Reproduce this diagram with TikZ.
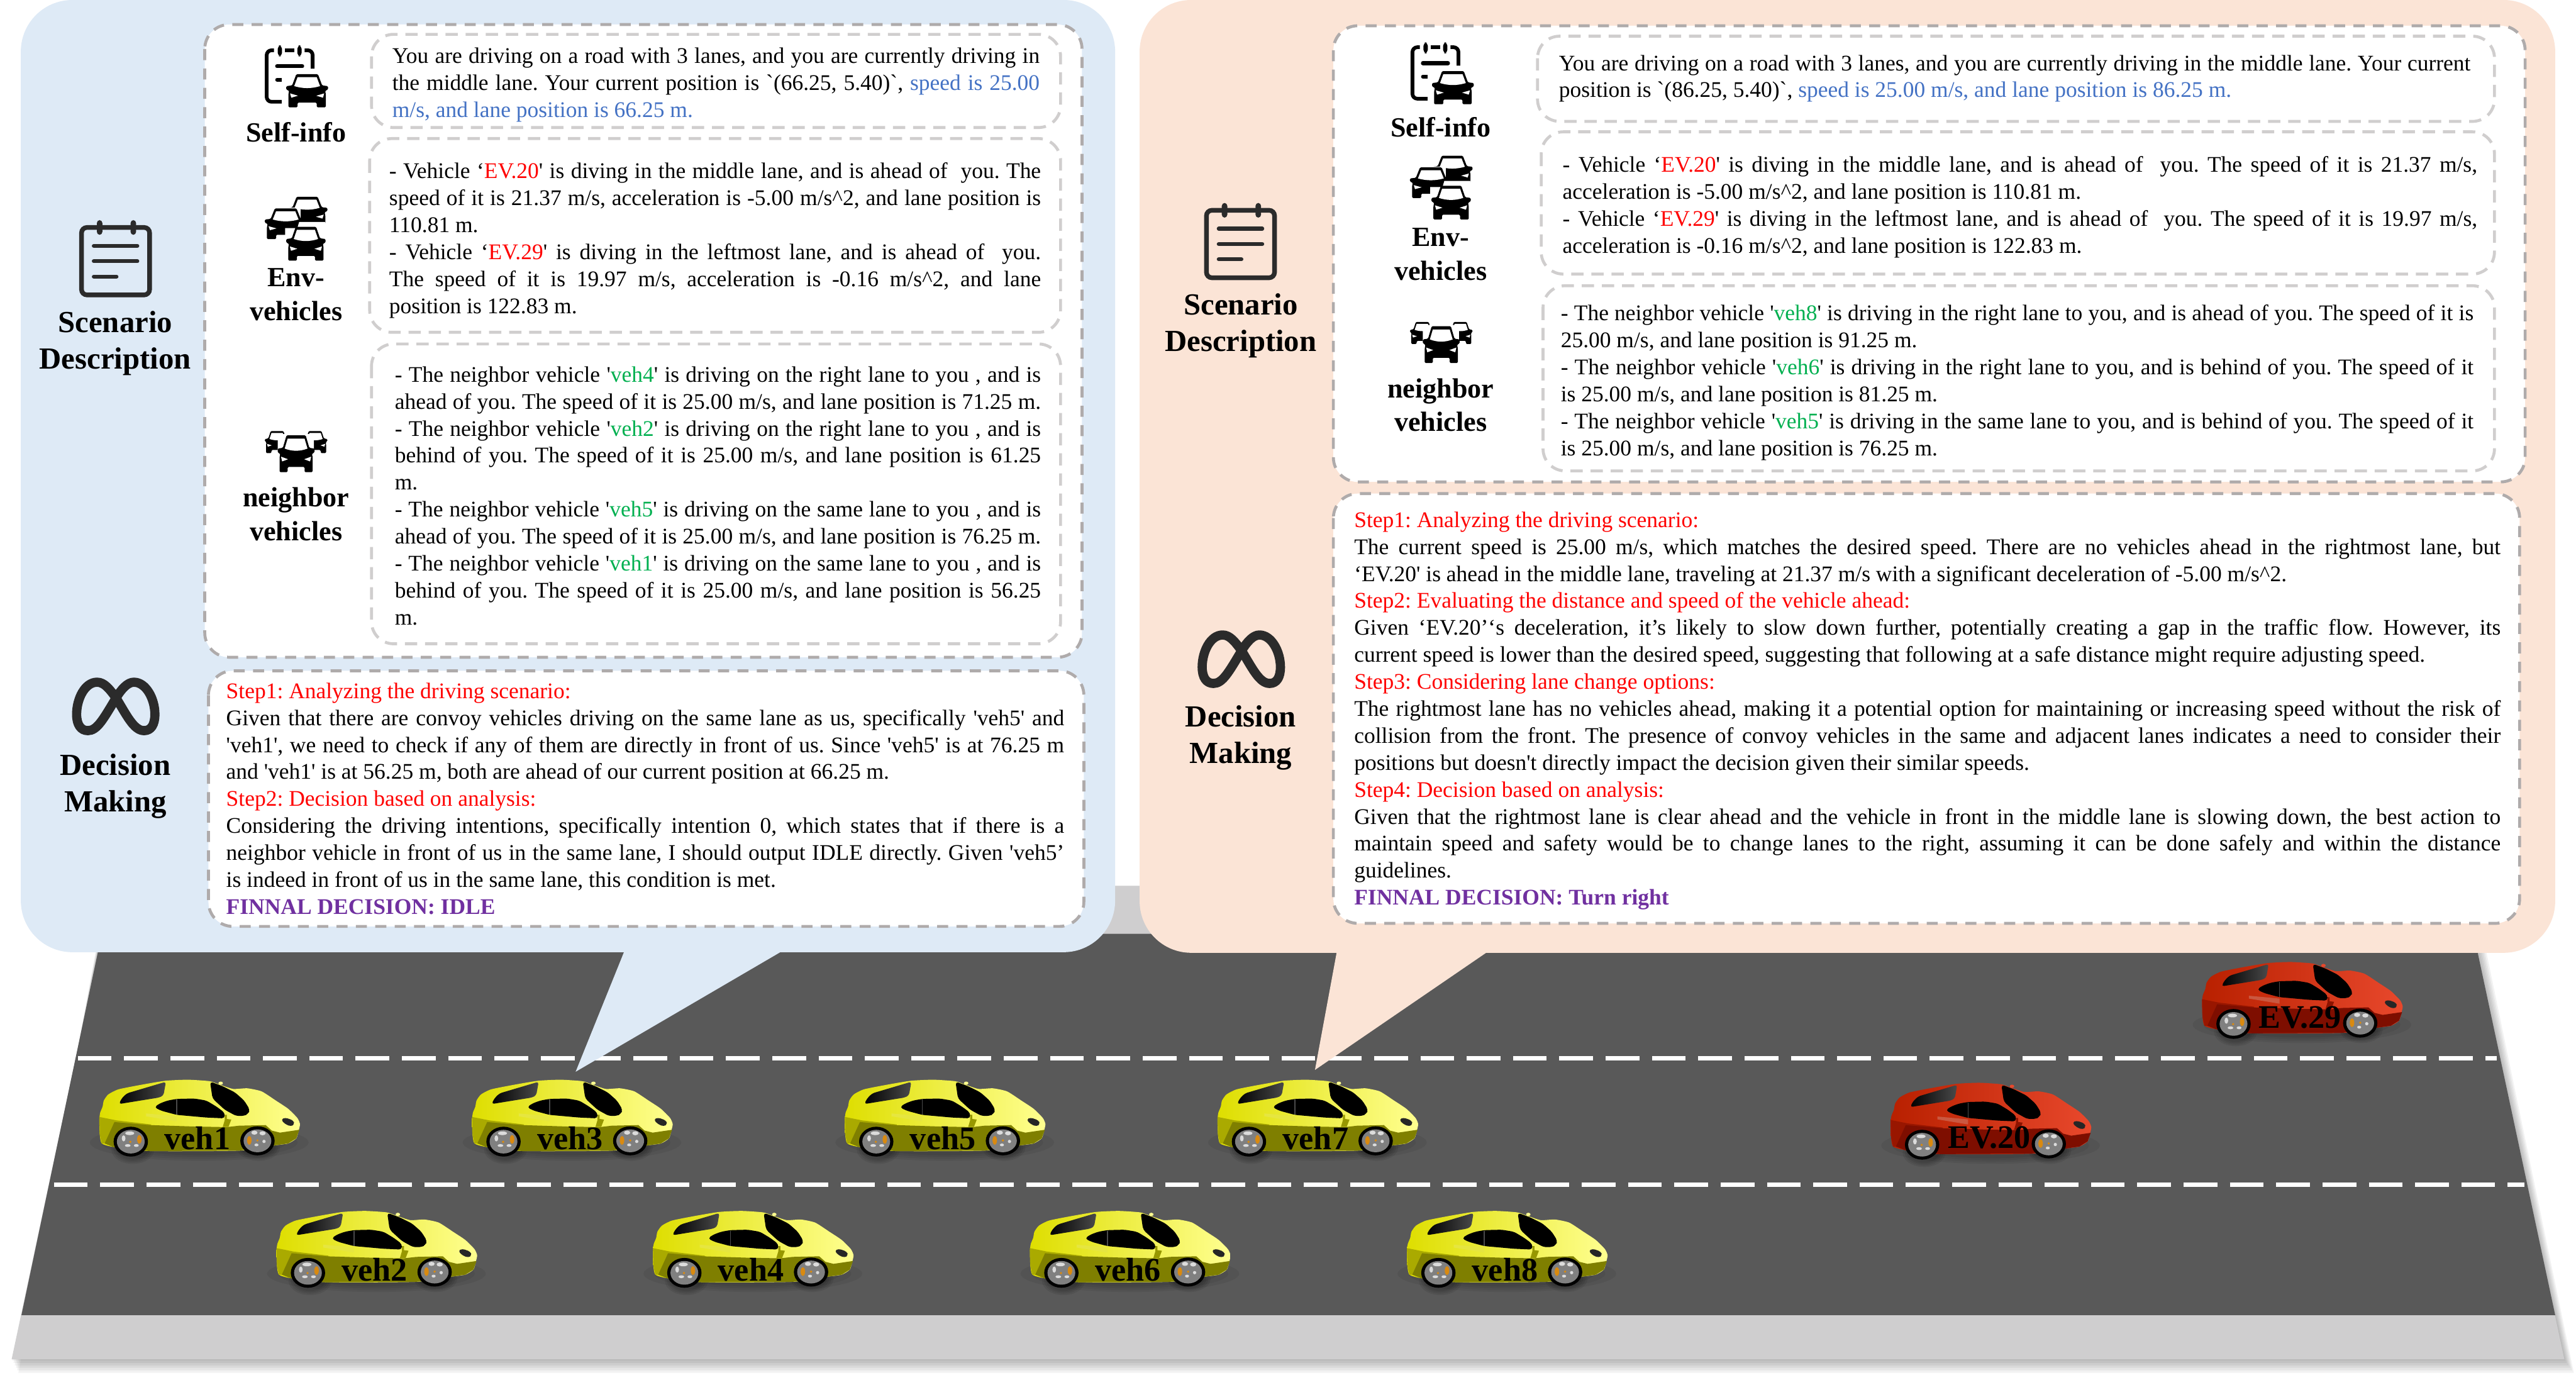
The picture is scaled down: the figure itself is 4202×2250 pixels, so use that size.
\documentclass[tikz,border=0pt]{standalone}
\usepackage{fontspec}
\setmainfont{Liberation Serif}[Ligatures=TeXOff]
\definecolor{panelblue}{HTML}{DEEAF6}
\definecolor{panelorange}{HTML}{FBE4D6}
\definecolor{roadgray}{HTML}{595959}
\definecolor{walkgray}{HTML}{CFCECF}
\definecolor{dashouter}{HTML}{AFABAB}
\definecolor{dashinner}{HTML}{D0CECE}
\definecolor{icongray}{HTML}{2B2B2B}
\definecolor{stepred}{HTML}{FF0000}
\definecolor{infoblue}{HTML}{4472C4}
\definecolor{vehgreen}{HTML}{00B050}
\definecolor{finalpurple}{HTML}{7030A0}
\definecolor{yelA}{HTML}{DEDE00}
\definecolor{yelB}{HTML}{FFFFC8}
\definecolor{yelC}{HTML}{7F7F00}
\definecolor{yelD}{HTML}{FFFF90}
\definecolor{redA}{HTML}{B82000}
\definecolor{redB}{HTML}{F2664E}
\definecolor{redC}{HTML}{7E0E00}
\definecolor{redD}{HTML}{E8482C}
\definecolor{glassgray}{HTML}{4A4A4A}
\definecolor{hubgray}{HTML}{808080}
\definecolor{spokewhite}{HTML}{DCDCDC}
\definecolor{hubamber}{HTML}{D98A10}
\newcommand{\JL}[1]{\hbox to \hsize{\spaceskip=.25em plus .6em minus .14em\relax #1}}
\newcommand{\LL}[1]{\hbox{#1}}
\newcommand{\RD}[1]{\textcolor{stepred}{#1}}
\newcommand{\GR}[1]{\textcolor{vehgreen}{#1}}
\newcommand{\BL}[1]{\textcolor{infoblue}{#1}}
\newcommand{\PU}[1]{\textcolor{finalpurple}{\bfseries #1}}
\newcommand{\UP}{\textasciicircum}
\newcommand{\body}{\fontsize{9.1pt}{11pt}\selectfont\frenchspacing}
% text block: name, x, first baseline y, width, lines
\newcommand{\txtblock}[5]{\node[anchor=base west,inner sep=0pt,outer sep=0pt] (#1) at (#2,{#3+2}) {\parbox[t]{\dimexpr#4pt/4\relax}{\body\baselineskip=11pt\lineskiplimit=-20pt #5}};}
% front-view car: centre x, top y, half width, height
\newcommand{\frontcar}[4]{%
\begin{scope}[shift={(#1,#2)},x=#3*0.25pt,y=-#4*0.25pt]
\fill[black,rounded corners=0.4pt] (-.52,0) -- (.52,0) -- (.72,.34) -- (1,.36) -- (1,.47) -- (.86,.5) -- (.9,.6) -- (.9,1) -- (.46,1) -- (.46,.86) -- (-.46,.86) -- (-.46,1) -- (-.9,1) -- (-.9,.6) -- (-.86,.5) -- (-1,.47) -- (-1,.36) -- (-.72,.34) -- cycle;
\fill[white] (-.46,.09) -- (.46,.09) -- (.62,.36) .. controls (.2,.44) and (-.2,.44) .. (-.62,.36) -- cycle;
\fill[white] (-.82,.58) -- (-.44,.65) -- (-.76,.71) -- cycle;
\fill[white] (.82,.58) -- (.44,.65) -- (.76,.71) -- cycle;
\end{scope}}
% self-info icon
\newcommand{\selficon}[2]{%
\begin{scope}[shift={(#1,#2)}]
\draw[black,line width=1.5pt,rounded corners=2pt] (447,82) -- (435,82) -- (435,166) -- (460,166);
\draw[black,line width=1.5pt,rounded corners=2pt] (497,82) -- (510,82) -- (510,112);
\draw[black,line width=1.5pt] (465,82) -- (480,82);
\fill[black,rounded corners=1.4pt] (453,74) rectangle (460,92);
\fill[black,rounded corners=1.4pt] (485,74) rectangle (492,92);
\draw[black,line width=1.6pt,line cap=round] (452,108) -- (493,108);
\draw[black,line width=1.5pt,line cap=round] (452,130) -- (461,130);
\fill[white] (460,115) rectangle (538,176);
\frontcar{501}{121}{34}{54}
\end{scope}}
\newcommand{\envicon}[2]{%
\begin{scope}[shift={(#1,#2)}]
\frontcar{501}{321}{33}{50}
\fill[white] (427,339) rectangle (490,392);
\frontcar{466}{340}{34}{50}
\fill[white] (465,372) -- (485,372) -- (488,362) -- (530,362) -- (538,376) -- (538,426) -- (465,426) -- cycle;
\frontcar{499}{370}{32}{55}
\end{scope}}
\newcommand{\neighicon}[2]{%
\begin{scope}[shift={(#1,#2)}]
\frontcar{452}{703}{20}{36}
\frontcar{514}{703}{20}{36}
\fill[white,rounded corners=1pt] (453,708) rectangle (512,771);
\frontcar{483}{710}{30}{60}
\end{scope}}
\newcommand{\calicon}[2]{%
\begin{scope}[shift={(#1,#2)}]
\draw[icongray,line width=1.9pt,rounded corners=2.2pt] (133,371) rectangle (244,481);
\fill[icongray,rounded corners=1.2pt] (158,359) rectangle (167,383);
\fill[icongray,rounded corners=1.2pt] (213,359) rectangle (222,383);
\draw[icongray,line width=1.6pt,line cap=round] (153,401) -- (224,401);
\draw[icongray,line width=1.6pt,line cap=round] (153,426) -- (224,426);
\draw[icongray,line width=1.6pt,line cap=round] (153,451) -- (190,451);
\end{scope}}
\newcommand{\metaicon}[2]{%
\begin{scope}[shift={({100+#1},{1090+#2})},x=0.25pt/3,y=-0.25pt/3]
\draw[icongray,line width=3.75pt,line join=round] (175,68) .. controls (115,68) and (75,150) .. (75,225) .. controls (75,275) and (95,305) .. (130,305) .. controls (175,305) and (205,250) .. (268,145) .. controls (295,100) and (325,68) .. (355,68) .. controls (415,68) and (458,150) .. (458,225) .. controls (458,275) and (440,305) .. (405,305) .. controls (355,305) and (320,230) .. (268,145) .. controls (235,100) and (210,68) .. (175,68) -- cycle;
\end{scope}}
% side-view sports car: L, T, rear colour, mid colour, lower colour, front colour
\newcommand{\sportscar}[6]{%
\begin{scope}[shift={({#1-12},{#2-10})},x=0.25pt/3,y=-0.25pt/3]
\foreach \s in {1,.9,.8,.7}{
 \fill[black,opacity=.06] (525,340) ellipse ({535*\s} and {90*\s});
 \fill[black,opacity=.07] (200,375) ellipse ({105*\s} and {70*\s});
 \fill[black,opacity=.07] (815,365) ellipse ({105*\s} and {65*\s});
}
\shade[left color=#3,middle color=#4,right color=#6] plot[smooth cycle,tension=.35] coordinates {(36,230) (40,195) (52,165) (58,135) (80,105) (130,80) (240,58) (360,38) (470,33) (575,40) (620,55) (690,78) (760,75) (830,90) (900,135) (960,175) (1005,220) (1018,250) (1012,280) (1000,320) (960,345) (890,355) (720,380) (280,382) (105,362) (48,345) (38,300)};
\fill[#5!55!#3] (36,215) -- (120,232) -- (290,252) -- (290,268) -- (120,262) -- (62,345) -- (48,345) -- (38,300) -- cycle;
\fill[#5] (110,240) -- (280,255) -- (500,262) -- (660,265) -- (720,258) -- (850,255) -- (880,282) -- (920,292) -- (1015,278) -- (1000,320) -- (960,345) -- (890,355) -- (720,380) -- (280,382) -- (105,362) -- (62,345) -- cycle;
\shade[left color=black,right color=glassgray,rounded corners=1pt] (132,152) -- (145,125) -- (170,100) -- (362,43) -- (350,110) -- (330,120) -- cycle;
\fill[black,rounded corners=1.2pt] (578,42) -- (640,65) -- (700,95) -- (745,135) -- (773,180) -- (765,200) -- (745,210) -- (705,210) -- (650,180) -- (590,125) -- cycle;
\fill[black,rounded corners=1.2pt] (305,168) -- (330,150) -- (370,135) -- (415,127) -- (500,125) -- (560,135) -- (610,165) -- (650,195) -- (650,222) -- (560,218) -- (415,205) -- (340,185) -- cycle;
\draw[glassgray,line width=0.4pt] (415,130) -- (415,205);
\fill[#3!75!white] (265,198) -- (415,212) -- (415,237) -- (265,212) -- cycle;
\fill[#5!75!#3] (650,205) -- (660,205) -- (660,225) -- (682,228) -- (668,264) -- (640,264) -- (650,230) -- cycle;
\fill[#6] (630,50) ellipse (11 and 8);
\fill[black!85,rounded corners=1pt] (925,228) -- (945,218) -- (985,232) -- (992,250) -- (975,262) -- (945,250) -- cycle;
\fill[black] (190,336) ellipse (84 and 73);
\fill[hubgray] (190,336) ellipse (68 and 58);
\fill[spokewhite] (185,295) ellipse (22 and 9);
\fill[spokewhite] (155,320) ellipse (9 and 15);
\fill[spokewhite] (175,355) ellipse (14 and 7);
\fill[spokewhite] (217,355) ellipse (12 and 7);
\fill[hubamber] (232,325) ellipse (11 and 21);
\fill[hubamber] (188,337) circle (6);
\fill[black] (810,332) ellipse (84 and 71);
\fill[hubgray] (810,332) ellipse (68 and 56);
\fill[spokewhite] (795,292) ellipse (15 and 10);
\fill[spokewhite] (835,295) ellipse (15 and 10);
\fill[spokewhite] (842,335) ellipse (8 and 8);
\fill[spokewhite] (805,352) ellipse (10 and 7);
\fill[hubamber] (770,330) ellipse (11 and 21);
\fill[hubamber] (810,330) circle (6);
\end{scope}}
\tikzset{
 panelfill/.style={rounded corners=21pt},
 outerbox/.style={draw=dashouter,fill=white,line width=1.2pt,dash pattern=on 4.5pt off 3.4pt,rounded corners=10pt},
 innerbox/.style={draw=dashinner,fill=white,line width=1.2pt,dash pattern=on 5pt off 3.2pt,rounded corners=9pt},
 lanemark/.style={white,line width=1.8pt,dash pattern=on 13.75pt off 5.13pt},
 headA/.style={font=\fontsize{12.5pt}{14pt}\selectfont\bfseries,inner sep=0pt,anchor=base},
 headB/.style={font=\fontsize{11.3pt}{14pt}\selectfont\bfseries,inner sep=0pt,anchor=base},
 carlabel/.style={font=\fontsize{13.4pt}{14pt}\selectfont\bfseries,inner sep=0pt,anchor=base}
}
\begin{document}
\begin{tikzpicture}[x=0.25pt,y=-0.25pt]
\useasboundingbox (0,0) rectangle (4202,2250);
\fill[white] (0,0) rectangle (4202,2250);
% ground shadow
\foreach \d in {2,6,10,14,18,22}{
  \fill[black,opacity=.05] ({183-\d/3},1445) -- ({4018+\d*.7},1445) -- ({4183+\d*.7},{2217+\d}) -- ({19+\d/2},{2217+\d}) -- cycle;
}
% ground
\fill[walkgray] (183,1445) -- (4018,1445) -- (4183,2217) -- (19,2217) -- cycle;
\fill[roadgray] (166,1523) -- (4035,1523) -- (4168,2145) -- (35,2145) -- cycle;
% lane marks
\coordinate (laneAw) at (127,1726);
\coordinate (laneAe) at (4073,1726);
\coordinate (laneBw) at (88,1932);
\coordinate (laneBe) at (4118,1932);
\draw[lanemark] (laneAw) -- (laneAe);
\draw[lanemark] (laneBw) -- (laneBe);
% cars
\sportscar{162}{1760}{yelA}{yelB}{yelC}{yelD}
\sportscar{770}{1760}{yelA}{yelB}{yelC}{yelD}
\sportscar{1378}{1760}{yelA}{yelB}{yelC}{yelD}
\sportscar{1986}{1760}{yelA}{yelB}{yelC}{yelD}
\sportscar{451}{1974}{yelA}{yelB}{yelC}{yelD}
\sportscar{1065}{1974}{yelA}{yelB}{yelC}{yelD}
\sportscar{1680}{1974}{yelA}{yelB}{yelC}{yelD}
\sportscar{2295}{1974}{yelA}{yelB}{yelC}{yelD}
\sportscar{3084}{1765}{redA}{redB}{redC}{redD}
\sportscar{3592}{1568}{redA}{redB}{redC}{redD}
\node[carlabel] (veh1) at (322,1875) {veh1};
\node[carlabel] (veh3) at (930,1875) {veh3};
\node[carlabel] (veh5) at (1538,1875) {veh5};
\node[carlabel] (veh7) at (2146,1875) {veh7};
\node[carlabel] (veh2) at (611,2089) {veh2};
\node[carlabel] (veh4) at (1225,2089) {veh4};
\node[carlabel] (veh6) at (1840,2089) {veh6};
\node[carlabel] (veh8) at (2455,2089) {veh8};
\node[carlabel] (ev20) at (3245,1873) {EV.20};
\node[carlabel] (ev29) at (3752,1677) {EV.29};
% speech bubbles
\fill[panelblue] (1019,1550) -- (939,1748) -- (1278,1550) -- cycle;
\fill[panelblue,panelfill] (34,0) rectangle (1819,1553);
\fill[panelorange] (2181,1550) -- (2145,1745) -- (2430,1550) -- cycle;
\fill[panelorange,panelfill] (1859,0) rectangle (4168,1554);
% left panel boxes
\draw[outerbox] (334,40) rectangle (1765,1072);
\draw[innerbox] (606,56) rectangle (1730,208);
\draw[innerbox] (603,226) rectangle (1730,542);
\draw[innerbox] (606,561) rectangle (1730,1050);
\draw[outerbox] (340,1094) rectangle (1768,1511);
% right panel boxes
\draw[outerbox] (2175,42) rectangle (4119,786);
\draw[innerbox] (2508,59) rectangle (4069,198);
\draw[innerbox] (2514,215) rectangle (4069,447);
\draw[innerbox] (2517,466) rectangle (4069,768);
\draw[outerbox] (2175,805) rectangle (4110,1506);
% left icons and heads
\calicon{0}{0}
\metaicon{0}{0}
\selficon{0}{0}
\envicon{0}{0}
\neighicon{0}{0}
\node[headA] (lscen) at (188,542) {Scenario};
\node[headA] (ldesc) at (188,602) {Description};
\node[headA] (ldeci) at (188,1264) {Decision};
\node[headA] (lmake) at (188,1324) {Making};
\node[headB] (lself) at (483,231) {Self-info};
\node[headB] (lenva) at (483,467) {Env-};
\node[headB] (lenvb) at (483,523) {vehicles};
\node[headB] (lneia) at (483,826) {neighbor};
\node[headB] (lneib) at (483,882) {vehicles};
% right icons and heads
\calicon{1835}{-28}
\metaicon{1836}{-77}
\selficon{1869}{-5}
\envicon{1868}{-67}
\neighicon{1868}{-178}
\node[headA] (rscen) at (2024,513) {Scenario};
\node[headA] (rdesc) at (2024,573) {Description};
\node[headA] (rdeci) at (2024,1185) {Decision};
\node[headA] (rmake) at (2024,1245) {Making};
\node[headB] (rself) at (2350,223) {Self-info};
\node[headB] (renva) at (2350,402) {Env-};
\node[headB] (renvb) at (2350,457) {vehicles};
\node[headB] (rneia) at (2350,649) {neighbor};
\node[headB] (rneib) at (2350,703) {vehicles};
% left texts
\txtblock{tlself}{640}{101}{1056}{%
\JL{You are driving on a road with 3 lanes, and you are currently driving in}
\JL{the middle lane. Your current position is `(66.25, 5.40)`, \BL{speed is 25.00}}
\LL{\BL{m/s, and lane position is 66.25 m.}}}
\txtblock{tlenv}{635}{289}{1063}{%
\JL{- Vehicle ‘\RD{EV.20}' is diving in the middle lane, and is ahead of \ you. The}
\JL{speed of it is 21.37 m/s, acceleration is -5.00 m/s\UP 2, and lane position is}
\LL{110.81 m.}
\JL{- Vehicle ‘\RD{EV.29}' is diving in the leftmost lane, and is ahead of \ you.}
\JL{The speed of it is 19.97 m/s, acceleration is -0.16 m/s\UP 2, and lane}
\LL{position is 122.83 m.}}
\txtblock{tlnei}{644}{621}{1054}{%
\JL{- The neighbor vehicle '\GR{veh4}' is driving on the right lane to you , and is}
\JL{ahead of you. The speed of it is 25.00 m/s, and lane position is 71.25 m.}
\JL{- The neighbor vehicle '\GR{veh2}' is driving on the right lane to you , and is}
\JL{behind of you. The speed of it is 25.00 m/s, and lane position is 61.25}
\LL{m.}
\JL{- The neighbor vehicle '\GR{veh5}' is driving on the same lane to you , and is}
\JL{ahead of you. The speed of it is 25.00 m/s, and lane position is 76.25 m.}
\JL{- The neighbor vehicle '\GR{veh1}' is driving on the same lane to you , and is}
\JL{behind of you. The speed of it is 25.00 m/s, and lane position is 56.25}
\LL{m.}}
\txtblock{tldec}{369}{1137}{1367}{%
\LL{\RD{Step1: Analyzing the driving scenario:}}
\JL{Given that there are convoy vehicles driving on the same lane as us, specifically 'veh5' and}
\JL{'veh1', we need to check if any of them are directly in front of us. Since 'veh5' is at 76.25 m}
\LL{and 'veh1' is at 56.25 m, both are ahead of our current position at 66.25 m.}
\LL{\RD{Step2: Decision based on analysis:}}
\JL{Considering the driving intentions, specifically intention 0, which states that if there is a}
\JL{neighbor vehicle in front of us in the same lane, I should output IDLE directly. Given 'veh5’}
\LL{is indeed in front of us in the same lane, this condition is met.}
\LL{\PU{FINNAL DECISION: IDLE}}}
% right texts
\txtblock{trself}{2543}{113}{1487}{%
\JL{You are driving on a road with 3 lanes, and you are currently driving in the middle lane. Your current}
\LL{position is `(86.25, 5.40)`, \BL{speed is 25.00 m/s, and lane position is 86.25 m.}}}
\txtblock{trenv}{2549}{279}{1492}{%
\JL{- Vehicle ‘\RD{EV.20}' is diving in the middle lane, and is ahead of \ you. The speed of it is 21.37 m/s,}
\LL{acceleration is -5.00 m/s\UP 2, and lane position is 110.81 m.}
\JL{- Vehicle ‘\RD{EV.29}' is diving in the leftmost lane, and is ahead of \ you. The speed of it is 19.97 m/s,}
\LL{acceleration is -0.16 m/s\UP 2, and lane position is 122.83 m.}}
\txtblock{trnei}{2546}{521}{1489}{%
\JL{- The neighbor vehicle '\GR{veh8}' is driving in the right lane to you, and is ahead of you. The speed of it is}
\LL{25.00 m/s, and lane position is 91.25 m.}
\JL{- The neighbor vehicle '\GR{veh6}' is driving in the right lane to you, and is behind of you. The speed of it}
\LL{is 25.00 m/s, and lane position is 81.25 m.}
\JL{- The neighbor vehicle '\GR{veh5}' is driving in the same lane to you, and is behind of you. The speed of it}
\LL{is 25.00 m/s, and lane position is 76.25 m.}}
\txtblock{trdec}{2209}{858}{1870}{%
\LL{\RD{Step1: Analyzing the driving scenario:}}
\JL{The current speed is 25.00 m/s, which matches the desired speed. There are no vehicles ahead in the rightmost lane, but}
\LL{‘EV.20' is ahead in the middle lane, traveling at 21.37 m/s with a significant deceleration of -5.00 m/s\UP 2.}
\LL{\RD{Step2: Evaluating the distance and speed of the vehicle ahead:}}
\JL{Given ‘EV.20’‘s deceleration, it’s likely to slow down further, potentially creating a gap in the traffic flow. However, its}
\LL{current speed is lower than the desired speed, suggesting that following at a safe distance might require adjusting speed.}
\LL{\RD{Step3: Considering lane change options:}}
\JL{The rightmost lane has no vehicles ahead, making it a potential option for maintaining or increasing speed without the risk of}
\JL{collision from the front. The presence of convoy vehicles in the same and adjacent lanes indicates a need to consider their}
\LL{positions but doesn't directly impact the decision given their similar speeds.}
\LL{\RD{Step4: Decision based on analysis:}}
\JL{Given that the rightmost lane is clear ahead and the vehicle in front in the middle lane is slowing down, the best action to}
\JL{maintain speed and safety would be to change lanes to the right, assuming it can be done safely and within the distance}
\LL{guidelines.}
\LL{\PU{FINNAL DECISION: Turn right}}}
\end{tikzpicture}
\end{document}
